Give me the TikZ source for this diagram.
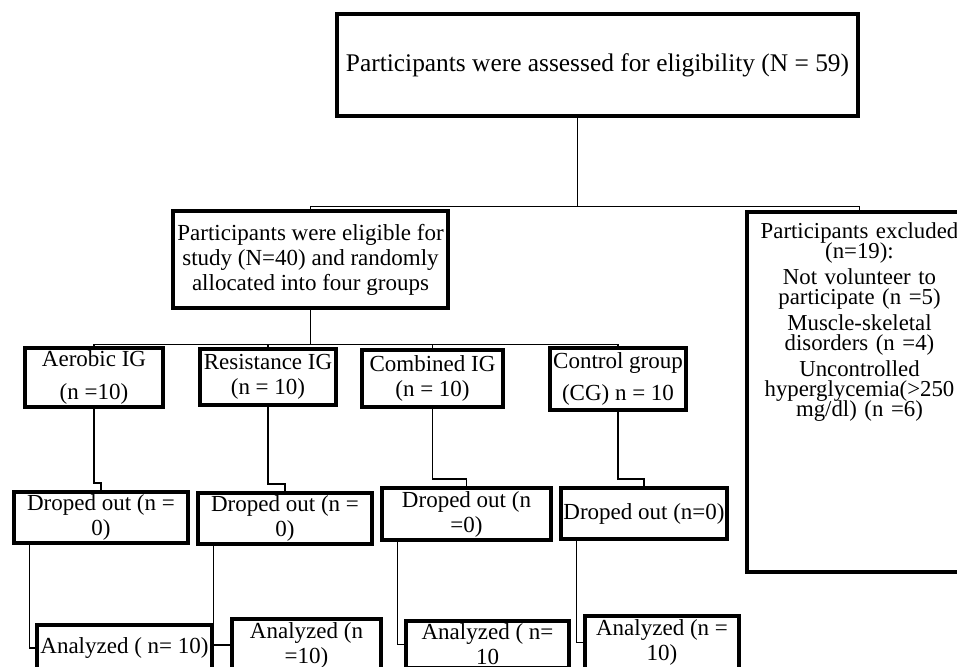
\documentclass[tikz,border=0pt]{standalone}
\usepackage{fontspec}
\setmainfont{Liberation Serif}
\begin{document}
\begin{tikzpicture}[x=1pt,y=-1pt,
    box/.style={draw,line width=4.8pt,align=center,inner xsep=1pt,inner ysep=2pt,font=\fontsize{23}{25}\selectfont},
    link/.style={line width=1.6pt}]
\useasboundingbox (0,0) rectangle (957,666);
\clip (0,0) rectangle (957,666);

\node[box,minimum width=521pt,minimum height=102pt,font=\fontsize{25.4}{28}\selectfont] at (597.5,65)(top){Participants were assessed for eligibility (N = 59)};
\node[box,minimum width=275pt,minimum height=97pt] at (310.5,259.5)(mid){Participants were eligible for\\study (N=40) and randomly\\allocated into four groups};
\node[box,minimum width=225pt,minimum height=360pt] at (859.5,392)(excl){};
\node[align=center,text width=224pt,anchor=north,inner sep=0pt,font={\fontsize{22.8}{19.8}\selectfont\lineskiplimit=-20pt\relax}] at ([yshift=-13pt]excl.north)(excl-txt){Participants excluded\\(n=19):\\[6.5pt]Not volunteer to\\participate (n =5)\\[6.5pt]Muscle-skeletal\\disorders (n =4)\\[6.5pt]Uncontrolled\\hyperglycemia(>250\\mg/dl) (n =6)};

% groups
\node[box,minimum width=138pt,minimum height=59pt] at (94,377.5)(aer){Aerobic IG\\[8pt](n =10)};
\node[box,minimum width=136pt,minimum height=56pt] at (268,377)(res){Resistance IG\\(n = 10)};
\node[box,minimum width=141pt,minimum height=57pt] at (432.5,378.5)(com){Combined IG\\(n = 10)};
\node[box,minimum width=136pt,minimum height=62pt] at (618,379)(con){Control group\\[7pt](CG) n = 10};

\node[box,minimum width=174pt,minimum height=51pt] at (101,517.5)(aer-d){Droped out (n =\\0)};
\node[box,minimum width=174pt,minimum height=51pt] at (285,518.5)(res-d){Droped out (n =\\0)};
\node[box,minimum width=169pt,minimum height=52pt] at (466.5,514)(com-d){Droped out (n\\=0)};
\node[box,minimum width=166pt,minimum height=51pt] at (644,513.5)(con-d){Droped out (n=0)};

\node[box,minimum width=175pt,minimum height=46pt] at (124.5,648)(aer-a){Analyzed ( n= 10)};
\node[box,minimum width=149pt,minimum height=52pt] at (306.5,645)(res-a){Analyzed (n\\=10)};
\node[box,minimum width=163pt,minimum height=47pt] at (487.5,644.5)(com-a){Analyzed ( n=\\10};
\node[box,minimum width=154pt,minimum height=53pt] at (662,642.5)(con-a){Analyzed (n =\\10)};

\coordinate (fork) at ([xshift=-20pt,yshift=-88pt]top.south);
\draw[link] ([xshift=-20pt]top.south) -- (fork) -| (mid.north);
\draw[link] (fork) -| (excl.north);
\coordinate (split) at ([yshift=-34pt]mid.south);
\draw[link] (mid.south) -- (split);

\foreach \g in {aer,res,com,con}{
    \draw[link] (split) -| (\g.north);
    \draw[link] (\g.south) |- ([yshift=6.5pt]\g-d.north) -- (\g-d.north);
    \draw[link] ([xshift=18pt]\g-d.south west) |- (\g-a.west);
}
\end{tikzpicture}
\end{document}
